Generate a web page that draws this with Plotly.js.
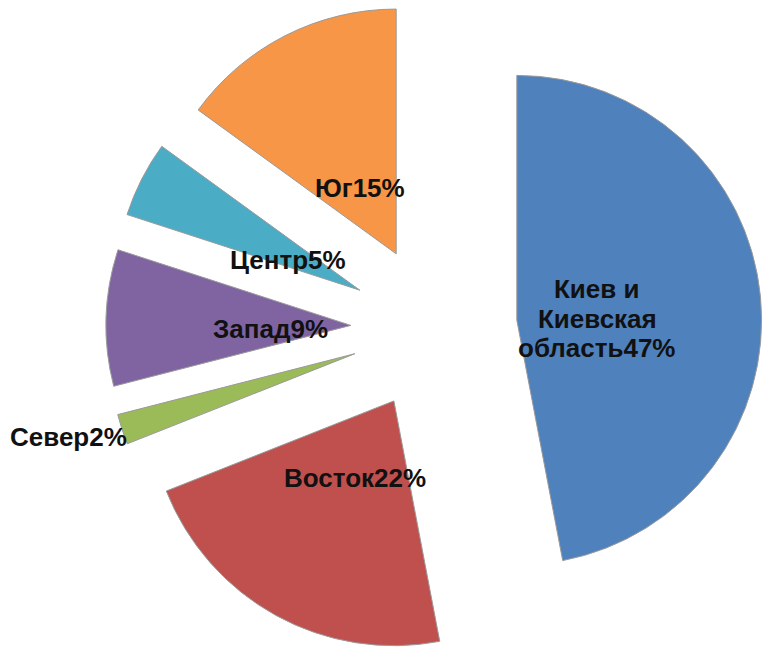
<!DOCTYPE html>
<html>
<head>
<meta charset="utf-8">
<script src="https://cdn.plot.ly/plotly-3.0.1.min.js"></script>
<style>html,body{margin:0;padding:0;background:#fff;}#chart{width:770px;height:656px;}</style>
</head>
<body>
<div id="chart"></div>
<script>
// Data
var regions = ["Киев и<br>Киевская<br>область", "Восток", "Север", "Запад", "Центр", "Юг"];
var shares = [47, 22, 2, 9, 5, 15];
var colors = ["#4F81BD", "#C0504D", "#9BBB59", "#8064A2", "#4BACC6", "#F79646"];

// Layout settings
var W = 770, H = 656;
var pullFrac = 0.34;
var domainX = [0.1272, 1];
var domainY = [0, 1];
var insideDist = 0.33;   // label distance from slice apex, fraction of radius
var outsideDist = 1.23;
var outsideLabels = ["Север"];
var fontSize = 26;
var lineGap = 29.5;
var insideShift = -6, outsideShift = 10;

var total = shares.reduce(function(a, b) { return a + b; }, 0);
var r = Math.min(W * (domainX[1] - domainX[0]), H * (domainY[1] - domainY[0])) / 2 / (1 + pullFrac);
var cx = W * (domainX[0] + domainX[1]) / 2;
var cy = H * (1 - (domainY[0] + domainY[1]) / 2);

var annotations = [];
var cum = 0;
for (var i = 0; i < shares.length; i++) {
  var mid = (cum + shares[i] / 2) / total;
  cum += shares[i];
  var th = mid * 2 * Math.PI;
  var isOut = outsideLabels.indexOf(regions[i]) >= 0;
  var d = (pullFrac + (isOut ? outsideDist : insideDist)) * r;
  var px = cx + d * Math.sin(th);
  var py = cy - d * Math.cos(th);
  var lines = (regions[i] + shares[i] + "%").split("<br>");
  for (var k = 0; k < lines.length; k++) {
    var off = (k - (lines.length - 1) / 2) * lineGap;
    annotations.push({
      x: px / W, y: 1 - (py + off) / H, xref: "paper", yref: "paper",
      text: lines[k], yshift: isOut ? outsideShift : insideShift,
      showarrow: false, xanchor: "center", yanchor: "middle", align: "center",
      font: {family: "Arial, 'Liberation Sans', sans-serif", size: fontSize, color: "#111111", weight: "bold"}
    });
  }
}

var trace = {
  type: "pie",
  labels: regions,
  values: shares,
  sort: false,
  direction: "clockwise",
  rotation: 0,
  pull: shares.map(function() { return pullFrac; }),
  marker: {colors: colors, line: {color: "#9a9a9a", width: 1}},
  textinfo: "none",
  hoverinfo: "label+percent",
  domain: {x: domainX, y: domainY}
};

var layout = {
  width: W, height: H,
  margin: {l: 0, r: 0, t: 0, b: 0},
  showlegend: false,
  paper_bgcolor: "#ffffff",
  annotations: annotations
};

Plotly.newPlot("chart", [trace], layout, {displayModeBar: false, staticPlot: true});
</script>
</body>
</html>
